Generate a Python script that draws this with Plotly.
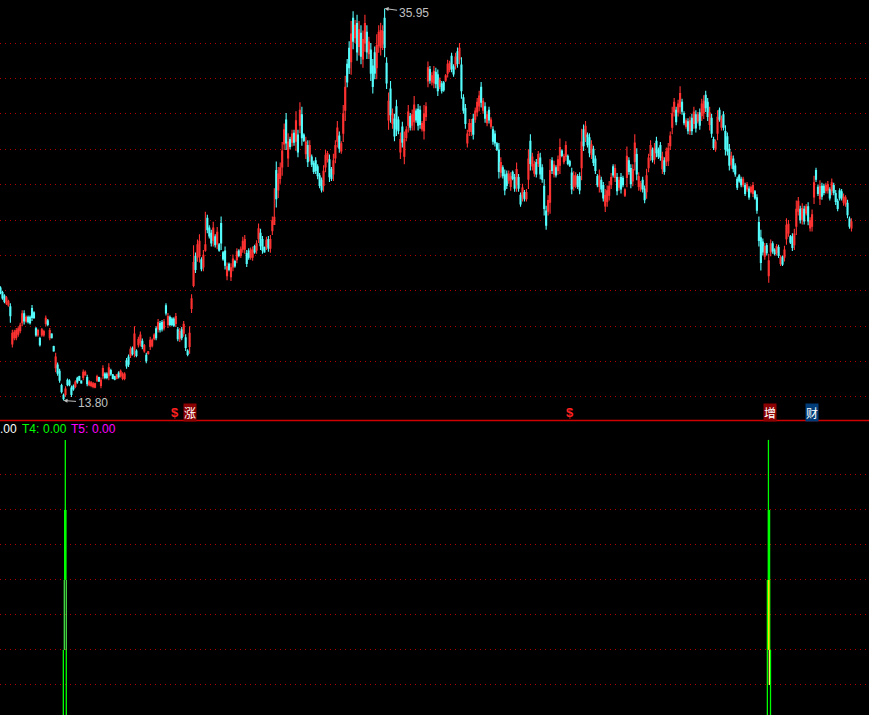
import plotly.graph_objects as go

high = [
20.25,20.0,19.8,19.7,19.5,19.3,17.8,17.8,17.9,18.0,
18.2,18.9,18.9,18.6,18.6,18.6,19.2,18.85,17.95,17.85,
17.4,17.9,17.8,18.6,18.4,17.9,17.6,16.9,16.5,15.95,
15.6,14.75,14.2,14.6,15.05,15.0,14.65,14.7,14.95,15.15,
15.2,14.95,15.55,15.5,15.25,14.95,14.9,14.85,14.8,15.25,
15.15,15.1,15.8,15.4,15.4,15.9,15.6,15.3,15.2,15.3,
15.45,15.55,15.4,15.4,16.2,16.4,16.85,16.85,18.0,16.7,
17.4,17.7,17.3,17.0,16.5,16.6,17.4,17.3,17.6,18.0,
18.4,18.3,18.35,18.4,19.3,18.75,18.6,18.5,18.5,18.75,
17.95,17.9,17.95,18.3,17.55,16.7,18.0,19.8,22.58,22.17,
22.9,23.2,21.9,22.3,24.46,24.3,23.7,23.45,23.9,23.2,
23.6,22.7,24.2,22.25,22.5,21.6,21.6,21.55,22.05,21.75,
22.4,22.35,22.5,23.05,23.15,22.3,22.4,22.45,22.5,22.6,
22.85,23.8,23.5,23.1,22.5,23.05,23.1,23.15,24.2,25.8,
27.3,27.0,27.25,28.4,29.45,30.05,28.9,28.7,29.1,29.1,
30.15,29.1,30.65,30.4,28.9,28.7,28.5,28.5,27.7,27.35,
27.55,27.15,26.65,26.4,27.1,27.95,27.9,27.7,27.0,27.75,
28.5,29.6,29.0,28.45,30.5,32.15,33.1,34.1,35.25,35.8,
35.3,35.6,35.25,35.0,34.7,35.6,35.0,34.35,34.0,33.1,
33.8,34.5,35.0,35.15,35.0,35.95,33.2,31.2,31.85,30.3,
30.0,30.8,29.85,28.95,29.55,29.0,29.3,30.5,30.05,30.25,
31.0,30.3,30.55,30.45,29.6,30.5,30.65,32.95,32.7,32.35,
32.7,32.6,32.5,32.05,31.85,31.85,32.25,33.05,33.0,33.45,
32.8,33.45,33.75,34.0,33.2,31.1,30.55,29.1,29.7,29.7,
30.0,30.35,30.9,31.3,31.8,30.9,30.65,30.15,30.4,29.8,
29.3,29.05,28.4,28.35,27.55,27.1,26.85,26.8,26.8,26.7,
26.8,26.6,27.25,26.6,25.55,26.05,25.7,25.75,28.0,28.85,
27.8,27.35,27.45,27.9,27.8,27.15,26.3,24.8,25.4,27.45,
27.55,27.35,27.1,27.65,28.6,28.0,27.75,28.45,27.7,27.4,
26.95,26.75,26.7,26.6,26.7,29.15,29.4,29.6,28.95,28.9,
28.5,28.2,27.65,26.6,26.85,26.45,26.15,25.75,25.95,26.2,
26.65,27.15,27.15,26.65,26.45,26.65,26.5,25.8,28.15,27.55,
27.15,27.15,28.85,28.05,26.7,26.2,26.45,25.95,26.9,27.75,
28.5,28.1,28.35,28.7,28.1,28.4,27.85,27.55,28.1,28.35,
29.0,30.4,30.9,30.4,30.8,31.55,30.85,30.15,29.75,29.75,
29.85,30.0,30.4,30.2,30.1,30.3,30.85,31.05,31.3,30.9,
30.4,30.0,28.7,28.55,30.2,30.35,29.9,30.15,29.35,28.95,
28.3,27.85,27.65,27.2,26.45,26.6,26.45,26.45,26.1,26.15,
25.9,25.95,26.15,25.7,25.45,24.2,23.45,22.95,22.7,22.7,
22.1,22.9,22.8,22.4,22.65,22.6,22.0,22.0,22.55,24.1,
24.0,23.15,23.25,23.5,25.1,25.3,24.8,24.95,24.8,24.9,
25.0,24.15,24.6,26.5,26.95,26.0,26.25,26.1,26.05,26.1,
26.2,25.85,26.35,26.1,25.7,25.2,25.8,25.75,25.5,25.4,
25.15,24.2,24.1]

low = [
19.8,19.5,19.3,19.2,19.1,18.2,16.8,17.2,17.2,17.4,
17.6,18.0,18.1,18.2,18.15,18.1,18.3,18.4,17.4,17.4,
16.85,17.4,17.4,18.0,18.0,17.2,17.3,16.55,15.4,15.2,
14.8,14.2,13.8,14.0,14.6,14.6,14.0,14.35,14.5,14.75,
14.9,14.75,14.95,15.2,14.6,14.6,14.55,14.5,14.5,14.85,
14.85,14.5,15.0,15.0,15.0,14.95,15.2,15.0,14.95,15.0,
15.05,15.1,14.95,14.95,15.6,15.7,16.2,16.35,16.25,16.25,
16.8,16.85,16.7,16.5,15.9,16.4,16.65,16.8,17.2,17.2,
17.65,17.65,17.7,17.75,18.6,17.9,18.0,18.0,17.95,17.95,
17.15,17.1,17.2,17.4,16.6,16.3,16.45,18.75,20.2,21.0,
21.64,21.6,21.1,21.1,22.2,23.25,22.95,22.5,22.5,22.45,
22.35,22.2,22.3,21.7,21.2,20.6,21.1,20.55,21.1,21.3,
21.55,21.9,21.85,22.15,22.1,21.35,21.75,21.75,21.7,22.1,
22.1,22.7,22.3,22.1,22.15,22.3,22.2,22.15,23.15,23.75,
24.7,25.25,26.05,26.5,27.95,27.95,27.0,28.0,28.15,28.2,
27.9,27.55,28.9,28.2,28.4,27.45,27.0,27.3,27.0,26.6,
26.6,26.3,25.8,25.55,25.6,26.7,27.25,26.15,26.2,26.2,
27.2,28.1,27.8,27.75,28.4,29.6,31.5,32.25,32.2,33.65,
34.0,33.0,33.3,32.8,32.6,33.5,33.1,33.1,31.85,31.15,
31.95,31.95,33.45,33.3,33.6,33.2,31.4,29.1,29.5,29.15,
28.45,28.75,28.85,27.45,28.1,27.15,28.45,28.95,29.05,29.05,
29.05,29.5,29.05,29.15,29.0,28.55,29.6,31.5,31.7,31.6,
31.45,31.45,31.0,31.4,31.15,31.25,31.8,32.05,32.35,32.35,
32.1,32.5,32.6,32.8,30.85,30.0,29.15,28.1,28.75,28.75,
28.55,29.5,29.85,30.15,30.35,30.0,29.5,29.3,29.45,29.15,
28.25,28.15,27.9,26.35,26.4,26.35,25.4,25.75,26.05,25.65,
26.25,25.6,25.6,25.6,24.75,25.05,25.05,25.05,25.75,26.8,
26.8,26.45,26.4,27.0,26.3,26.1,24.25,23.45,24.25,24.35,
26.6,26.4,26.4,26.55,26.6,27.55,27.15,27.35,27.1,27.0,
25.45,25.65,25.8,25.75,25.45,26.25,27.9,28.4,28.1,27.55,
27.45,27.05,26.6,25.85,25.55,25.55,25.05,24.45,24.75,25.1,
25.75,26.4,26.15,25.4,25.65,25.5,25.85,25.3,25.85,26.55,
25.8,25.9,26.8,26.25,25.65,25.6,25.55,24.95,25.2,26.7,
27.35,27.25,27.15,27.55,27.45,27.35,26.6,26.55,27.05,27.05,
27.95,28.85,29.85,29.35,29.85,30.0,29.95,29.35,29.15,28.85,
28.8,28.8,29.15,28.95,29.45,29.1,29.6,29.7,30.1,29.6,
29.05,28.65,27.95,27.85,28.5,29.55,29.05,29.05,27.65,27.65,
26.8,26.9,26.7,26.45,25.7,26.1,25.85,25.85,25.35,25.6,
25.15,25.5,25.3,25.15,24.35,22.5,21.15,22.0,21.75,22.0,
20.45,21.95,22.1,22.0,22.0,21.85,21.4,21.4,21.65,22.6,
23.05,22.65,22.25,22.3,23.15,24.25,23.8,23.75,23.75,24.25,
23.7,23.35,23.35,24.9,26.15,25.35,24.85,25.15,25.4,25.5,
25.5,25.1,25.4,25.4,24.85,24.5,25.1,25.1,24.8,24.75,
24.1,23.5,23.35]

open_ = [
20.15,19.9,19.7,19.3,19.2,19.1,17.0,17.35,17.35,17.55,
17.75,18.2,18.7,18.3,18.5,18.5,19.0,18.75,17.85,17.5,
17.3,17.5,17.5,18.15,18.3,17.35,17.55,16.85,15.65,15.8,
15.45,14.65,14.1,14.15,14.95,14.9,14.5,14.6,14.6,15.05,
15.15,14.9,15.1,15.25,15.1,14.7,14.65,14.6,14.55,14.95,
15.1,14.65,15.2,15.3,15.3,15.2,15.5,15.25,15.15,15.05,
15.35,15.2,15.05,15.05,16.05,16.25,16.35,16.75,16.7,16.6,
16.95,17.05,17.15,16.6,16.35,16.45,16.85,16.9,17.3,17.85,
17.85,18.15,18.2,17.9,19.15,18.1,18.5,18.4,18.4,18.15,
17.8,17.3,17.8,17.6,17.35,16.6,16.85,19.0,20.3,21.95,
21.9,21.95,21.75,21.35,22.3,24.1,23.55,23.25,22.85,23.05,
22.65,22.6,23.8,22.15,22.25,20.85,21.5,20.8,21.35,21.65,
21.75,22.25,22.0,22.35,22.35,22.1,22.25,21.9,21.9,22.5,
22.3,22.95,23.25,22.9,22.45,22.5,22.9,22.4,23.4,23.75,
26.8,25.7,26.35,27.0,28.3,29.65,27.5,28.55,28.4,28.9,
28.45,28.8,29.35,29.95,28.8,27.75,28.2,27.6,27.55,27.2,
27.35,27.0,26.5,26.25,25.95,27.0,27.4,27.4,26.85,26.6,
27.5,28.45,28.75,27.9,28.9,30.2,32.8,33.7,32.95,35.4,
34.3,35.1,33.8,34.55,33.1,34.0,34.6,33.4,33.6,32.7,
33.45,32.6,33.85,33.75,33.95,35.4,32.85,29.65,31.4,29.45,
29.7,30.4,29.65,27.85,29.25,27.6,28.65,29.35,29.85,29.35,
29.55,30.15,30.25,30.2,29.15,29.05,29.85,31.85,32.5,31.8,
31.75,32.35,32.2,31.55,31.7,31.75,31.9,32.3,32.5,33.25,
32.65,32.75,33.5,33.1,32.75,30.9,30.3,28.35,29.0,29.0,
29.7,29.7,30.1,30.45,31.5,30.2,30.4,29.5,30.2,29.3,
29.1,28.85,28.3,27.95,26.7,26.95,26.55,26.6,26.25,25.9,
26.7,26.4,26.0,26.4,25.4,25.3,25.55,25.2,26.3,28.45,
27.05,26.65,27.25,27.2,27.5,26.95,25.9,24.5,24.5,25.0,
27.35,26.6,26.95,26.8,27.1,27.9,27.3,27.6,27.6,27.3,
26.65,25.9,26.0,26.45,26.45,26.95,29.1,28.7,28.8,28.65,
27.7,28.0,27.45,26.45,25.9,26.25,25.95,24.8,25.05,25.4,
26.0,27.0,26.4,26.4,25.85,26.4,26.35,25.4,26.4,27.35,
26.9,26.2,27.3,27.7,25.9,25.75,26.25,25.75,25.6,26.95,
27.65,27.95,27.45,28.45,27.95,28.2,26.9,27.35,27.3,27.35,
28.2,29.25,30.1,30.2,30.1,30.4,30.65,30.0,29.3,29.55,
29.05,29.75,29.45,29.95,29.6,30.05,29.9,30.05,31.05,30.65,
29.4,29.75,28.55,28.0,28.9,30.2,29.25,29.95,29.0,28.7,
28.0,27.15,27.45,27.05,26.3,26.5,26.3,26.0,25.95,25.75,
25.75,25.6,25.5,25.6,25.25,23.85,23.0,22.75,21.95,22.55,
20.85,22.2,22.65,22.3,22.15,22.45,21.55,21.9,21.9,22.95,
23.25,23.05,23.05,22.6,23.65,24.5,24.6,24.05,24.6,24.4,
24.75,23.55,23.65,25.3,26.8,25.85,25.2,25.9,25.9,25.65,
25.7,25.7,25.65,25.95,25.5,25.05,25.65,25.6,25.0,24.9,
24.95,24.05,23.55]

close = [
19.9,19.6,19.4,19.6,19.4,18.6,17.6,17.65,17.75,17.85,
18.05,18.7,18.3,18.5,18.25,18.2,18.5,18.5,17.5,17.75,
16.95,17.8,17.7,18.45,18.1,17.75,17.35,16.6,16.25,15.35,
14.95,14.3,13.9,14.45,14.7,14.7,14.15,14.45,14.85,14.85,
14.95,14.8,15.4,15.4,14.75,14.85,14.8,14.75,14.75,15.15,
14.9,14.95,15.6,15.1,15.1,15.65,15.3,15.05,15.0,15.25,
15.15,15.45,15.3,15.3,15.75,15.85,16.7,16.45,17.55,16.35,
17.25,17.5,16.85,16.9,16.05,16.55,17.2,17.2,17.5,17.35,
18.2,17.8,17.85,18.25,18.75,18.55,18.1,18.1,18.05,18.55,
17.3,17.7,17.35,18.1,16.8,16.4,17.6,19.55,21.6,21.2,
22.6,22.8,21.25,22.0,22.6,23.45,23.1,22.7,23.55,22.6,
23.3,22.3,22.7,21.8,21.45,21.35,21.2,21.3,21.8,21.4,
22.2,22.0,22.35,22.8,22.9,21.55,21.9,22.3,22.3,22.2,
22.65,23.5,22.55,22.3,22.2,22.85,22.4,22.9,23.95,24.15,
25.2,26.6,26.95,27.9,29.1,28.35,28.4,28.15,28.85,28.4,
29.6,27.85,30.2,28.65,28.5,28.4,27.3,28.2,27.15,26.75,
26.8,26.5,25.95,25.7,26.75,27.65,27.75,26.45,26.35,27.35,
28.2,29.2,28.05,28.3,30.0,31.5,31.8,32.6,34.5,34.1,
35.0,33.5,34.75,33.25,34.2,35.1,33.5,34.05,32.3,31.55,
32.3,33.85,34.6,34.7,34.65,33.75,31.75,30.7,29.95,30.0,
28.75,29.15,29.05,28.55,28.4,28.55,29.1,30.1,29.25,29.95,
30.5,29.65,29.35,29.4,29.45,30.0,30.4,32.6,31.9,32.15,
32.4,31.7,31.3,31.9,31.3,31.35,32.15,32.8,32.85,32.55,
32.25,33.2,32.85,33.7,31.3,30.2,29.45,28.85,29.45,29.45,
28.85,30.15,30.65,31.0,30.65,30.7,29.75,29.95,29.65,29.65,
28.45,28.35,28.0,26.75,27.25,26.5,25.7,25.95,26.6,26.45,
26.35,25.8,26.85,25.8,24.9,25.8,25.2,25.55,27.45,27.2,
27.55,27.15,26.6,27.7,26.6,26.3,24.65,23.7,25.1,26.8,
26.8,27.1,26.55,27.4,28.1,27.65,27.6,28.2,27.2,27.1,
25.75,26.5,26.5,25.9,25.7,28.4,28.2,29.3,28.25,27.8,
28.25,27.25,26.8,26.0,26.5,25.75,25.25,25.4,25.65,25.9,
26.4,26.55,26.9,25.65,26.25,25.75,26.0,25.7,27.6,26.75,
26.05,26.85,28.35,26.6,26.45,26.05,25.75,25.15,26.5,27.5,
28.2,27.4,28.05,27.8,27.6,27.55,27.55,26.75,27.85,28.05,
28.75,30.0,30.65,29.55,30.55,31.15,30.15,29.5,29.6,29.05,
29.6,29.05,30.1,29.2,29.95,29.35,30.55,30.7,30.35,29.85,
30.05,28.9,28.1,28.4,29.8,29.7,29.7,29.25,28.0,27.9,
27.1,27.6,26.9,26.6,25.85,26.2,26.0,26.3,25.5,26.0,
25.3,25.85,25.95,25.25,24.55,22.85,21.6,22.2,22.5,22.15,
21.7,22.65,22.25,22.1,22.5,22.0,21.85,21.5,22.3,23.7,
23.75,22.75,22.45,23.2,24.6,25.05,24.0,24.65,23.95,24.75,
23.95,23.95,24.3,26.1,26.3,25.5,25.9,25.35,25.55,25.95,
26.0,25.25,26.1,25.55,25.05,24.65,25.25,25.25,25.3,25.25,
24.3,23.65,23.9]

grid_prices = [14, 16, 18, 20, 22, 24, 26, 28, 30, 32, 34]
lower_grid = [0.5, 1, 1.5, 2, 2.5, 3, 3.5]

stick_x = [32.9, 32.9, 32.4, 33.4, 31.9, 33.4,
           389.85, 390.1, 389.3, 390.5, 389.3, 390.9, 389.3, 390.9, 390.0, 390.3]
stick_bottom = [3, 2, 1, 1, 0, 0,
                3, 2, 1, 1, 0.5, 0.5, 0, 0, 1, 0.5]
stick_top = [4, 3, 2, 2, 1, 1,
             4, 3, 2, 2, 1, 1, 0.5, 0.5, 2, 1]
stick_color = ["#00ff00", "#00ff00", "#44dd44", "#44dd44", "#00ff00", "#00ff00",
               "#00ff00", "#00ff00", "#00ff00", "#00ff00",
               "#00ff00", "#00ff00", "#00ff00", "#00ff00", "#ffe000", "#ffff60"]
stick_width = [1.3, 2.6, 1.3, 1.3, 1.3, 1.3,
               1.3, 2.6, 1.3, 1.3, 1.3, 1.3, 1.3, 1.3, 1.6, 1.3]

signal_k = [88.6, 96.2, 289, 390.6, 412]
signal_price = [13.15, 13.15, 13.15, 13.15, 13.15]
signal_text = ["$", "涨", "$", "增", "财"]
signal_bg = [None, "#8b0000", None, "#8b0000", "#003c78"]

RED = "#ff3232"
CYAN = "#54fcfc"
GRID = "#b00000"
GREY = "#c0c0c0"
W, H = 869, 715

fig = go.Figure()
fig.add_trace(go.Candlestick(
    x=list(range(len(high))), open=open_, high=high, low=low, close=close,
    increasing=dict(line=dict(color=RED, width=1.1), fillcolor=RED),
    decreasing=dict(line=dict(color=CYAN, width=1.1), fillcolor=CYAN),
    whiskerwidth=0, showlegend=False, xaxis="x", yaxis="y"))

for xv, b, t, c, w in zip(stick_x, stick_bottom, stick_top, stick_color, stick_width):
    fig.add_trace(go.Scatter(x=[xv, xv], y=[b, t], mode="lines",
                             line=dict(color=c, width=w), showlegend=False,
                             xaxis="x2", yaxis="y2", hoverinfo="skip"))

annots = []
for k, p, t, bg in zip(signal_k, signal_price, signal_text, signal_bg):
    if bg is None:
        annots.append(dict(x=k, y=p, xref="x", yref="y", text="<b>%s</b>" % t, showarrow=False,
                           font=dict(color="#ff2020", size=13, family="Liberation Sans")))
    else:
        annots.append(dict(x=k, y=p, xref="x", yref="y", text=t, showarrow=False, bgcolor=bg, borderpad=0,
                           font=dict(color="#ffffff", size=12, family="Noto Sans CJK SC")))

annots.append(dict(x=32, y=13.8, xref="x", yref="y", text="13.80", showarrow=True, ax=29, ay=2,
                   arrowcolor=GREY, arrowwidth=1, arrowhead=2, arrowsize=0.8, standoff=0, startstandoff=0,
                   font=dict(color=GREY, size=12, family="Liberation Sans")))
annots.append(dict(x=195, y=35.95, xref="x", yref="y", text="35.95", showarrow=True, ax=29, ay=4,
                   arrowcolor=GREY, arrowwidth=1, arrowhead=2, arrowsize=0.8, standoff=0, startstandoff=0,
                   font=dict(color=GREY, size=12, family="Liberation Sans")))

legend_parts = [(0, ".00", "#ffffff"), (22, "T4:", "#00ff00"), (43, "0.00", "#00ff00"),
                (71, "T5:", "#ff00ff"), (92, "0.00", "#ff00ff")]
for px, t, c in legend_parts:
    annots.append(dict(x=px / W, y=1 - 428.5 / H, xref="paper", yref="paper", text=t, showarrow=False,
                       xanchor="left", yanchor="middle", borderpad=0, borderwidth=0,
                       font=dict(color=c, size=12, family="Liberation Sans")))

x_range = [-0.254, 440.9]
fig.update_layout(
    width=W, height=H, margin=dict(l=0, r=0, t=0, b=0, autoexpand=False),
    paper_bgcolor="#000000", plot_bgcolor="#000000", boxgap=0.25, showlegend=False,
    annotations=annots,
    xaxis=dict(domain=[0, 1], range=x_range, visible=False, rangeslider=dict(visible=False),
               anchor="y", fixedrange=True),
    yaxis=dict(domain=[1 - 420 / H, 1], range=[12.70, 36.43], tickvals=grid_prices, showticklabels=False,
               ticks="", showgrid=True, gridcolor=GRID, griddash="1px,4px", gridwidth=1, zeroline=False,
               showline=False, anchor="x", fixedrange=True),
    xaxis2=dict(domain=[0, 1], range=x_range, visible=False, anchor="y2", fixedrange=True),
    yaxis2=dict(domain=[0, 1 - 421 / H], range=[0.071, 4.27], tickvals=lower_grid, showticklabels=False,
                ticks="", showgrid=True, gridcolor=GRID, griddash="1px,4px", gridwidth=1, zeroline=False,
                showline=False, anchor="x2", fixedrange=True),
    shapes=[dict(type="line", xref="paper", yref="paper", x0=0, x1=1, y0=1 - 420.5 / H, y1=1 - 420.5 / H,
                 line=dict(color="#d00000", width=1.5))],
)

fig.write_html("out.html", config=dict(displayModeBar=False),
               post_script="document.body.style.margin='0';document.documentElement.style.overflow='hidden';")
